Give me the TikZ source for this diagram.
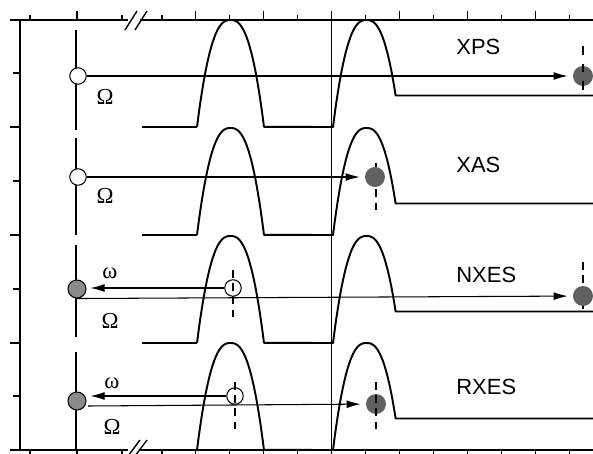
\documentclass[tikz,border=0pt]{standalone}
\usepackage{fontspec}
\usepackage{xcolor}
\usepackage{tikz}
\usetikzlibrary{arrows.meta,positioning}
\newfontfamily\specfont{Liberation Sans}
\newfontfamily\greekfont{Liberation Serif}
\definecolor{dotgray}{HTML}{606060}
\definecolor{srcgray}{HTML}{8A8A8A}

\begin{document}
\begin{tikzpicture}[x=0.02cm, y=-0.02cm,
    axis/.style={line width=1.2pt},
    tick/.style={line width=0.8pt},
    pulse/.style={line width=1.1pt, line join=round},
    arr/.style={line width=0.6pt, -{Latex[length=8pt,width=4.5pt]}},
    guide/.style={line width=0.9pt, dash pattern=on 4.5pt off 3pt},
    opendot/.style={circle, draw, line width=0.6pt, fill=white, inner sep=0pt, minimum size=0.33cm},
    fulldot/.style={circle, fill=dotgray, inner sep=0pt, minimum size=0.4cm},
    srcdot/.style={circle, draw, line width=0.6pt, fill=srcgray, inner sep=0pt, minimum size=0.36cm},
    tag/.style={font=\specfont\fontsize{12.5}{14}\selectfont, anchor=west, inner sep=0pt},
    sym/.style={font=\greekfont\fontsize{13}{15}\selectfont}]
    \useasboundingbox (0,0) rectangle (593,454);

    % Axes
    \draw[axis] (10,20) -- (128,20) (140,20) -- (593,20);
    \draw[axis] (10,450) -- (128,450) (140,450) -- (593,450);
    \draw[axis] (20,20) -- (20,450);
    \draw[tick] (125,30) -- (137,11) (135,30) -- (147,11);
    \draw[tick] (128,456) -- (140,440) (135,456) -- (147,440);

    % Ticks
    \foreach \x/\l in {30/5,77/9,122/5,162/5,195.5/9,229.5/5,263.5/9,297.5/5,
        331.5/9,365.5/5,399.5/9,433.5/5,467.5/9,501.5/5,535.5/9,569.5/5} {
        \draw[tick] (\x,20) -- (\x,20-\l);
        \draw[tick] (\x,450) -- (\x,456);
    }
    \foreach \y/\l in {73/7,127/10,181/7,235/10,289/7,343/10,396/7}
        \draw[tick] (20,\y) -- (20-\l,\y);

    % Edge line
    \draw[line width=0.9pt] (331.5,11) -- (331.5,450);

    % Ground level
    \foreach \a/\b in {30/130,138/235,245/337,352/450}
        \draw[line width=1.1pt] (76,\a) -- (76,\b);

    % Pulses: baseline
    \foreach \B in {127,235,343}
        \draw[pulse] (142,\B) -- (197,\B);
    \foreach \B in {127,235,343,450}
        \draw[pulse] plot[domain=-1:1,samples=40]
            ({230.5+33.5*\x},{\B-107*(1-\x*\x*sqrt(abs(\x)))})
            -- (333,\B) -- plot[domain=-1:0.87,samples=40]
            ({366.5+33.5*\x},{\B-107*(1-\x*\x*sqrt(abs(\x)))})
            -- (593,\B-31.5);

    % XPS
    \node[opendot] (xps-in) at (78,76) {};
    \node[fulldot] (xps-out) at (583,76) {};
    \draw[line width=1.6pt, dash pattern=on 5pt off 5pt] (583,46) -- (583,95);
    \draw[arr, shorten >=0.1cm] (xps-in) -- (xps-out);
    \node[sym] (xps-omega) at (105,97) {Ω};
    \node[tag] (xps-tag) at (456,47) {XPS};

    % XAS
    \node[opendot] (xas-in) at (78,177) {};
    \draw[guide] (376,163) -- (376,211);
    \node[fulldot] (xas-out) at (375,177) {};
    \draw[arr, shorten >=0.1cm] (xas-in) -- (xas-out);
    \node[sym] (xas-omega) at (105,196) {Ω};
    \node[tag] (xas-tag) at (456,165) {XAS};

    % NXES
    \node[srcdot] (nxes-in) at (77,289) {};
    \node[opendot] (nxes-ex) at (233,288) {};
    \draw[guide] (233,270) -- (233,317);
    \draw[guide] (583,262) -- (583,310);
    \node[fulldot] (nxes-out) at (583,296) {};
    \draw[arr, shorten >=0.08cm] (nxes-ex) -- (nxes-ex -| nxes-in.east);
    \draw[arr, shorten >=0.1cm] (nxes-in.south) -- (nxes-out);
    \node[sym] (nxes-omega-in) at (110,273) {ω};
    \node[sym] (nxes-omega) at (110,321) {Ω};
    \node[tag] (nxes-tag) at (456,275) {NXES};

    % RXES
    \node[srcdot] (rxes-in) at (77,401) {};
    \node[opendot] (rxes-ex) at (235,396) {};
    \draw[guide] (235,382) -- (235,430);
    \node[fulldot] (rxes-out) at (376,404) {};
    \draw[guide] (376,382) -- (376,430);
    \coordinate (rxes-foot) at (88,406);
    \draw[arr, shorten >=0.08cm] (rxes-ex) -- (rxes-ex -| rxes-in.east);
    \draw[arr, shorten >=0.1cm] (rxes-foot) -- (rxes-out);
    \node[sym] (rxes-omega-in) at (112,383) {ω};
    \node[sym] (rxes-omega) at (112,427) {Ω};
    \node[tag] (rxes-tag) at (456,387) {RXES};
\end{tikzpicture}
\end{document}
